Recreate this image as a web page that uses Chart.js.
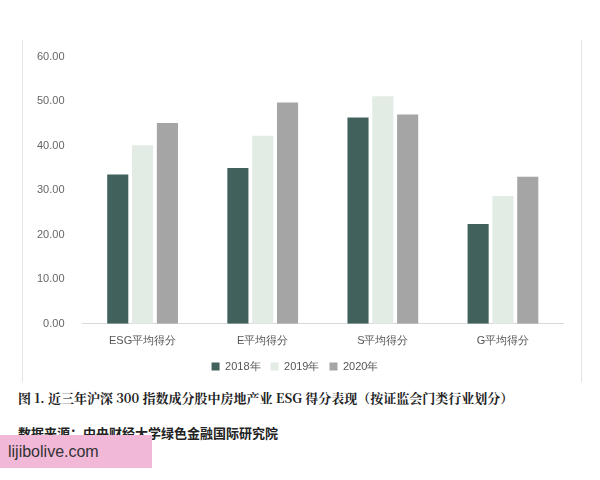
<!DOCTYPE html>
<html><head><meta charset="utf-8">
<script src="https://cdn.jsdelivr.net/npm/chart.js@4"></script>
<style>
body{margin:0;width:600px;height:480px;background:#fff;position:relative;font-family:"Noto Sans CJK SC",sans-serif;overflow:hidden}
#box{position:absolute;left:22px;top:40px;width:558px;height:342px;border-left:1px solid #e4e4e4;border-right:1px solid #e4e4e4}
#cap{position:absolute;left:18px;top:388px;font-family:"Noto Serif CJK SC","Noto Sans CJK SC",serif;font-weight:bold;font-size:13px;color:#222}
#src{position:absolute;left:18px;top:423px;font-weight:bold;font-size:13px;color:#222}
#wm{position:absolute;left:0;top:435px;width:152px;height:33px;background:#f2b8d8;color:#333;font-family:Arial,sans-serif;font-size:16px;line-height:33px;padding-left:8px;box-sizing:border-box}
</style></head><body>
<div id="box"><canvas id="chart1"></canvas></div>
<div id="cap">图 1. 近三年沪深 300 指数成分股中房地产业 ESG 得分表现（按证监会门类行业划分）</div>
<div id="src">数据来源：中央财经大学绿色金融国际研究院</div>
<div id="wm">lijibolive.com</div>
<script>
const categories = ["ESG平均得分", "E平均得分", "S平均得分", "G平均得分"];
const years = ["2018年", "2019年", "2020年"];
const scores2018 = [33.5, 35.0, 46.3, 22.4];
const scores2019 = [40.1, 42.2, 51.1, 28.7];
const scores2020 = [45.1, 49.7, 47.0, 33.0];
const colors = ["#41625c", "#e3ebe5", "#a5a5a5"];

const ctx1 = document.getElementById("chart1").getContext("2d");
const chart1 = new Chart(ctx1, {
  type: "bar",
  data: {
    labels: categories,
    datasets: [scores2018, scores2019, scores2020].map((d, i) => ({
      label: years[i], data: d, backgroundColor: colors[i],
      categoryPercentage: 0.62, barPercentage: 0.85,
    })),
  },
  options: {
    animation: false,
    responsive: true,
    maintainAspectRatio: false,
    layout: { padding: { left: 4, right: 18, top: 6, bottom: 0 } },
    plugins: {
      legend: {
        position: "bottom",
        labels: { boxWidth: 8, boxHeight: 8, color: "#555", font: { size: 11 } },
      },
      tooltip: { enabled: false },
    },
    scales: {
      x: {
        grid: { display: false },
        border: { color: "#d9d9d9" },
        ticks: { color: "#555", font: { size: 11 } },
      },
      y: {
        min: 0, max: 60,
        ticks: { stepSize: 10, color: "#666", font: { size: 11 }, callback: v => v.toFixed(2), padding: 10 },
        grid: { display: false },
        border: { display: false },
      },
    },
  },
});
</script>
</body></html>
